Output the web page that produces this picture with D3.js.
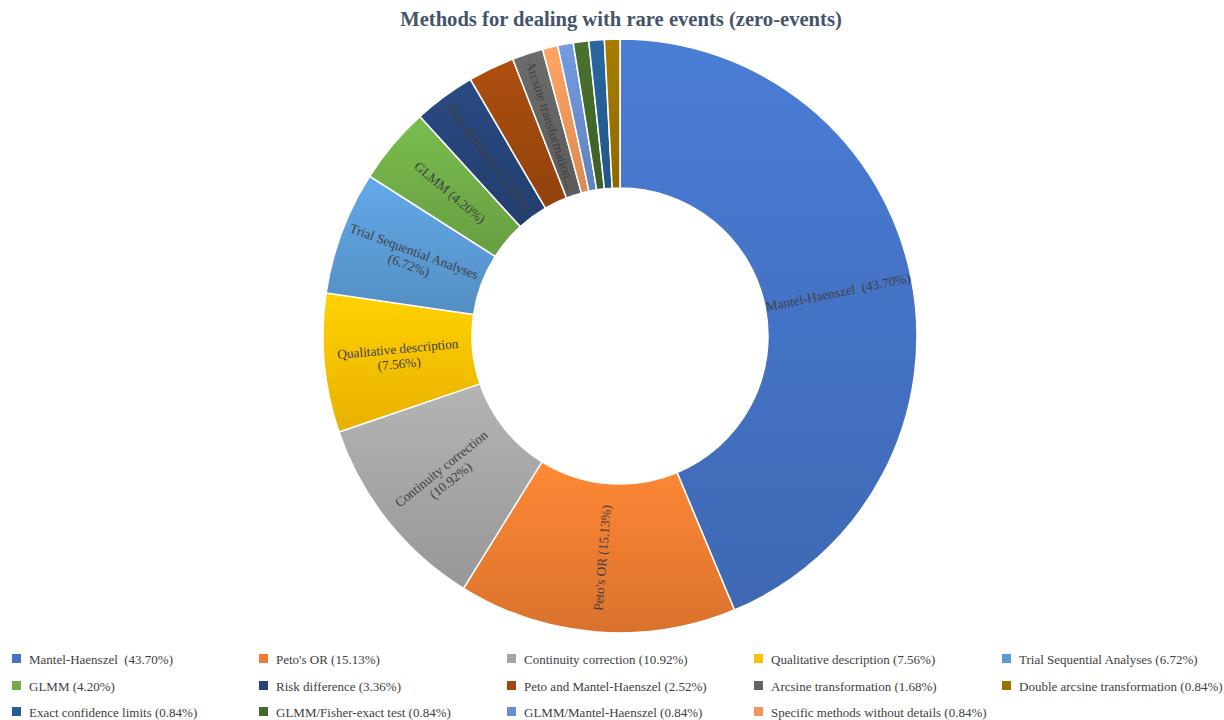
<!DOCTYPE html>
<html>
<head>
<meta charset="utf-8">
<script src="https://cdn.jsdelivr.net/npm/d3@7"></script>
<style>
  html, body { margin: 0; padding: 0; background: #fff; }
  svg { display: block; }
  text { white-space: pre; }
</style>
</head>
<body>
<svg id="chart" width="1224" height="720"></svg>
<script>
// Data (pie order, clockwise from 12 o'clock)
const categories = [
  "Mantel-Haenszel", "Peto's OR", "Continuity correction", "Qualitative description",
  "Trial Sequential Analyses", "GLMM", "Risk difference", "Peto and Mantel-Haenszel",
  "Arcsine transformation", "Specific methods without details", "GLMM/Mantel-Haenszel",
  "GLMM/Fisher-exact test", "Exact confidence limits", "Double arcsine transformation"
];
const values = [43.70, 15.13, 10.92, 7.56, 6.72, 4.20, 3.36, 2.52, 1.68, 0.84, 0.84, 0.84, 0.84, 0.84];
const colors = ["#4472C4", "#ED7D31", "#A5A5A5", "#FFC000", "#5B9BD5", "#70AD47", "#264478",
  "#9E480E", "#636363", "#F1975A", "#698ED0", "#43682B", "#255E91", "#997300"];
// Slice labels as shown in the picture (null = no label)
const sliceLabels = [
  ["Mantel-Haenszel  (43.70%)"],
  ["Peto's OR (15.13%)"],
  ["Continuity correction", "(10.92%)"],
  ["Qualitative description", "(7.56%)"],
  ["Trial Sequential Analyses", "(6.72%)"],
  ["GLMM (4.20%)"],
  ["Risk difference (3.36%)"],
  null,
  ["Arcsine transformation..."],
  null, null, null, null, null
];
// Legend order
const legendOrder = [
  "Mantel-Haenszel", "Peto's OR", "Continuity correction", "Qualitative description",
  "Trial Sequential Analyses", "GLMM", "Risk difference", "Peto and Mantel-Haenszel",
  "Arcsine transformation", "Double arcsine transformation", "Exact confidence limits",
  "GLMM/Fisher-exact test", "GLMM/Mantel-Haenszel", "Specific methods without details"
];
const legendText = {
  "Mantel-Haenszel": "Mantel-Haenszel  (43.70%)"
};
const title = "Methods for dealing with rare events (zero-events)";

const svg = d3.select("#chart");
const cx = 620, cy = 336, R = 297, r0 = 148;

svg.append("text")
  .attr("x", 621).attr("y", 26)
  .attr("text-anchor", "middle")
  .attr("font-family", "'Liberation Serif', 'Times New Roman', serif")
  .attr("font-weight", "bold")
  .attr("font-size", 20.6)
  .attr("fill", "#44546A")
  .text(title);

const defs = svg.append("defs");
colors.forEach((c, i) => {
  const g = defs.append("linearGradient").attr("id", "grad" + i)
    .attr("x1", 0).attr("y1", 0).attr("x2", 0).attr("y2", 1);
  g.append("stop").attr("offset", "0%").attr("stop-color", d3.color(c).brighter(0.25));
  g.append("stop").attr("offset", "100%").attr("stop-color", d3.color(c).darker(0.25));
});

const data = categories.map((c, i) => ({ name: c, value: values[i], idx: i }));
const pie = d3.pie().value(d => d.value).sort(null);
const arcs = pie(data);
const arc = d3.arc().innerRadius(r0).outerRadius(R);

const g = svg.append("g").attr("transform", `translate(${cx},${cy})`);
g.selectAll("path").data(arcs).enter().append("path")
  .attr("d", arc)
  .attr("fill", d => `url(#grad${d.data.idx})`)
  .attr("stroke", "#fff")
  .attr("stroke-width", 1.5);

const rl = (R + r0) / 2;
arcs.forEach(d => {
  const lab = sliceLabels[d.data.idx];
  if (!lab) return;
  const a = (d.startAngle + d.endAngle) / 2;
  const deg = a * 180 / Math.PI;
  const x = Math.sin(a) * rl, y = -Math.cos(a) * rl;
  const rot = deg <= 180 ? deg - 90 : deg - 270;
  const t = g.append("text")
    .attr("transform", `translate(${x},${y}) rotate(${rot})`)
    .attr("text-anchor", "middle")
    .attr("font-family", "'Liberation Serif', 'Times New Roman', serif")
    .attr("font-size", 13.3)
    .attr("fill", "#404040");
  const lh = 15;
  const off = -(lab.length - 1) * lh / 2 + 4.5;
  lab.forEach((line, k) => {
    t.append("tspan").attr("x", 0).attr("y", off + k * lh).text(line);
  });
});

// Legend
const colX = [12, 259, 507, 754, 1002];
const rowY = [659, 686, 712];
const lg = svg.append("g");
legendOrder.forEach((name, k) => {
  const i = categories.indexOf(name);
  const col = k % 5, row = Math.floor(k / 5);
  const x = colX[col], y = rowY[row];
  lg.append("rect").attr("x", x).attr("y", y - 5).attr("width", 9).attr("height", 9)
    .attr("fill", colors[i]);
  lg.append("text").attr("x", x + 17).attr("y", y + 4.5)
    .attr("font-family", "'Liberation Serif', 'Times New Roman', serif")
    .attr("font-size", 13).attr("fill", "#404040")
    .text(legendText[name] || `${name} (${values[i].toFixed(2)}%)`);
});
</script>
</body>
</html>
